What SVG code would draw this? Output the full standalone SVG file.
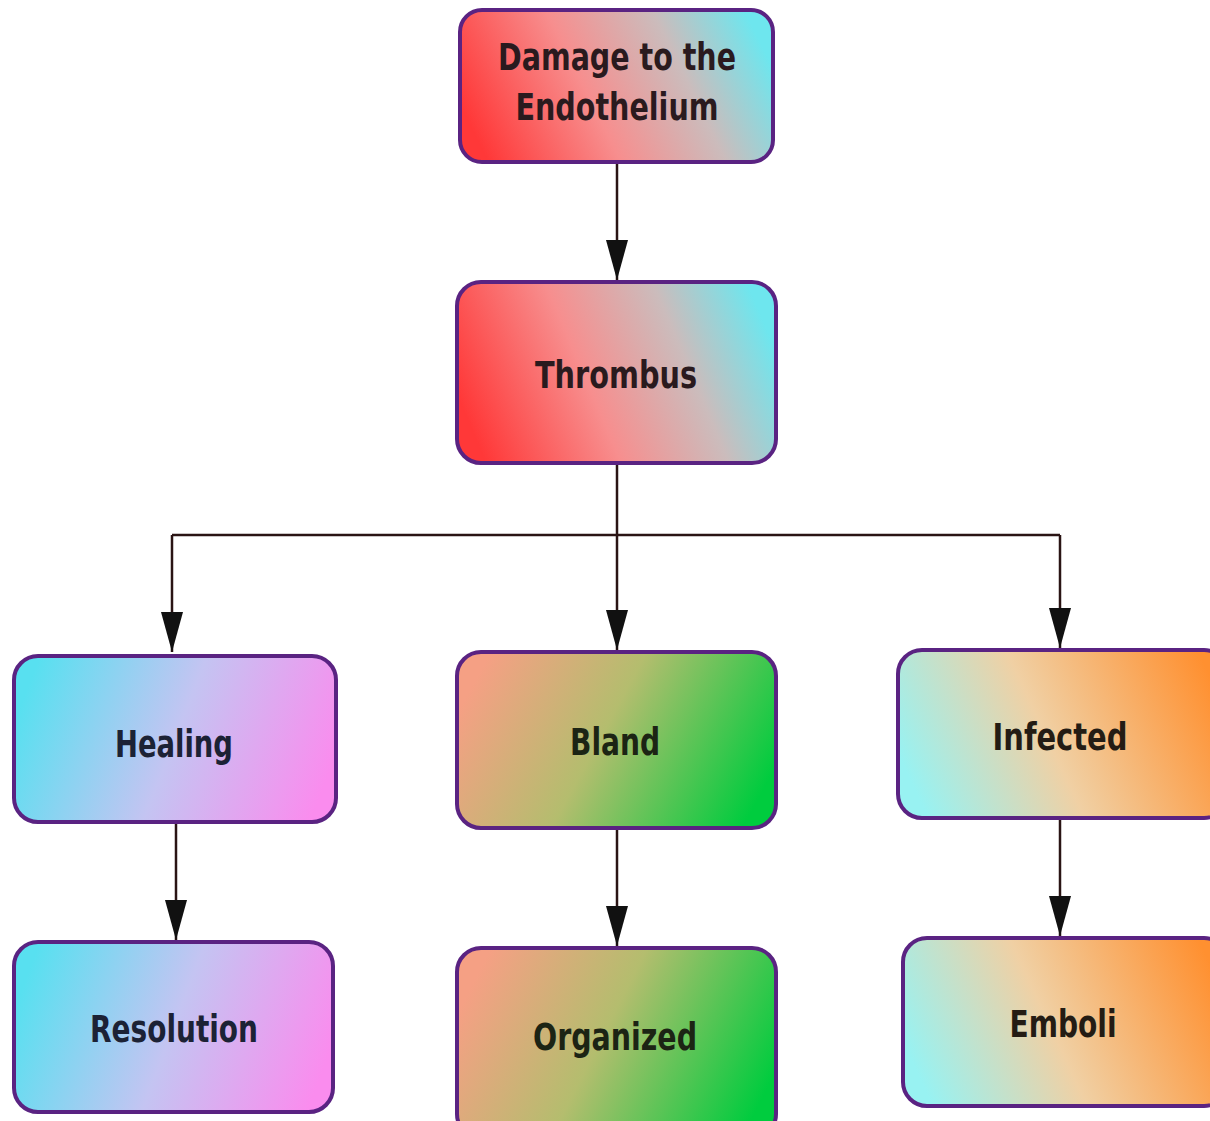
<svg xmlns="http://www.w3.org/2000/svg" width="1210" height="1121" viewBox="0 0 1210 1121">
<defs>
<linearGradient id="gRed" x1="0" y1="0.62" x2="1" y2="0.38">
<stop offset="0" stop-color="#ff3838"/>
<stop offset="0.4" stop-color="#f78e8e"/>
<stop offset="0.72" stop-color="#cbbcbc"/>
<stop offset="1" stop-color="#6ee6ee"/>
</linearGradient>
<linearGradient id="gPink" x1="0" y1="0.4" x2="1" y2="0.6">
<stop offset="0" stop-color="#58e0f0"/>
<stop offset="0.5" stop-color="#c4c4f2"/>
<stop offset="1" stop-color="#fa8cee"/>
</linearGradient>
<linearGradient id="gGreen" x1="0" y1="0.35" x2="1" y2="0.65">
<stop offset="0" stop-color="#f5a084"/>
<stop offset="0.45" stop-color="#b4bd6e"/>
<stop offset="1" stop-color="#00cc3e"/>
</linearGradient>
<linearGradient id="gOrange" x1="0" y1="0.62" x2="1" y2="0.38">
<stop offset="0" stop-color="#98f2f2"/>
<stop offset="0.45" stop-color="#f0d0a4"/>
<stop offset="1" stop-color="#ff9030"/>
</linearGradient>
<marker id="arr" viewBox="0 0 40 22" refX="40" refY="11" markerWidth="40" markerHeight="22" markerUnits="userSpaceOnUse" orient="auto">
<path d="M0,0 L40,11 L0,22 z" fill="#111"/>
</marker>
</defs>
<style>
.box{stroke:#5a2382;stroke-width:4}
.t{font-family:"DejaVu Sans Condensed","DejaVu Sans",sans-serif;font-weight:bold;font-size:37px;text-anchor:middle;fill:#2a1a1e}
.c{fill:none;stroke:#2a1414;stroke-width:2.5}
</style>
<rect width="1210" height="1121" fill="#ffffff"/>
<g id="connectors">
<line class="c" x1="617" y1="162" x2="617" y2="280" marker-end="url(#arr)"/>
<polyline class="c" points="617,463 617,535"/>
<line class="c" x1="172" y1="535" x2="1060" y2="535"/>
<line class="c" x1="172" y1="535" x2="172" y2="652" marker-end="url(#arr)"/>
<line class="c" x1="617" y1="535" x2="617" y2="650" marker-end="url(#arr)"/>
<line class="c" x1="1060" y1="535" x2="1060" y2="648" marker-end="url(#arr)"/>
<line class="c" x1="176" y1="822" x2="176" y2="940" marker-end="url(#arr)"/>
<line class="c" x1="617" y1="828" x2="617" y2="946" marker-end="url(#arr)"/>
<line class="c" x1="1060" y1="818" x2="1060" y2="936" marker-end="url(#arr)"/>
</g>
<g id="damage">
<rect class="box" x="460" y="10" width="313" height="152" rx="22" fill="url(#gRed)"/>
<text class="t" x="617" y="70" textLength="238" lengthAdjust="spacingAndGlyphs">Damage to the</text>
<text class="t" x="617" y="120" textLength="203" lengthAdjust="spacingAndGlyphs">Endothelium</text>
</g>
<g id="thrombus">
<rect class="box" x="457" y="282" width="319" height="181" rx="24" fill="url(#gRed)"/>
<text class="t" x="616" y="388" textLength="162" lengthAdjust="spacingAndGlyphs">Thrombus</text>
</g>
<g id="healing">
<rect class="box" x="14" y="656" width="322" height="166" rx="24" fill="url(#gPink)"/>
<text class="t" x="174" y="757" textLength="118" lengthAdjust="spacingAndGlyphs" style="fill:#1c2235">Healing</text>
</g>
<g id="bland">
<rect class="box" x="457" y="652" width="319" height="176" rx="24" fill="url(#gGreen)"/>
<text class="t" x="615" y="755" textLength="90" lengthAdjust="spacingAndGlyphs" style="fill:#1c2414">Bland</text>
</g>
<g id="infected">
<rect class="box" x="898" y="650" width="330" height="168" rx="24" fill="url(#gOrange)"/>
<text class="t" x="1060" y="750" textLength="135" lengthAdjust="spacingAndGlyphs" style="fill:#241c14">Infected</text>
</g>
<g id="resolution">
<rect class="box" x="14" y="942" width="319" height="170" rx="24" fill="url(#gPink)"/>
<text class="t" x="174" y="1042" textLength="168" lengthAdjust="spacingAndGlyphs" style="fill:#1c2235">Resolution</text>
</g>
<g id="organized">
<rect class="box" x="457" y="948" width="319" height="190" rx="24" fill="url(#gGreen)"/>
<text class="t" x="615" y="1050" textLength="164" lengthAdjust="spacingAndGlyphs" style="fill:#1c2414">Organized</text>
</g>
<g id="emboli">
<rect class="box" x="903" y="938" width="325" height="168" rx="24" fill="url(#gOrange)"/>
<text class="t" x="1063" y="1037" textLength="107" lengthAdjust="spacingAndGlyphs" style="fill:#241c14">Emboli</text>
</g>
</svg>
